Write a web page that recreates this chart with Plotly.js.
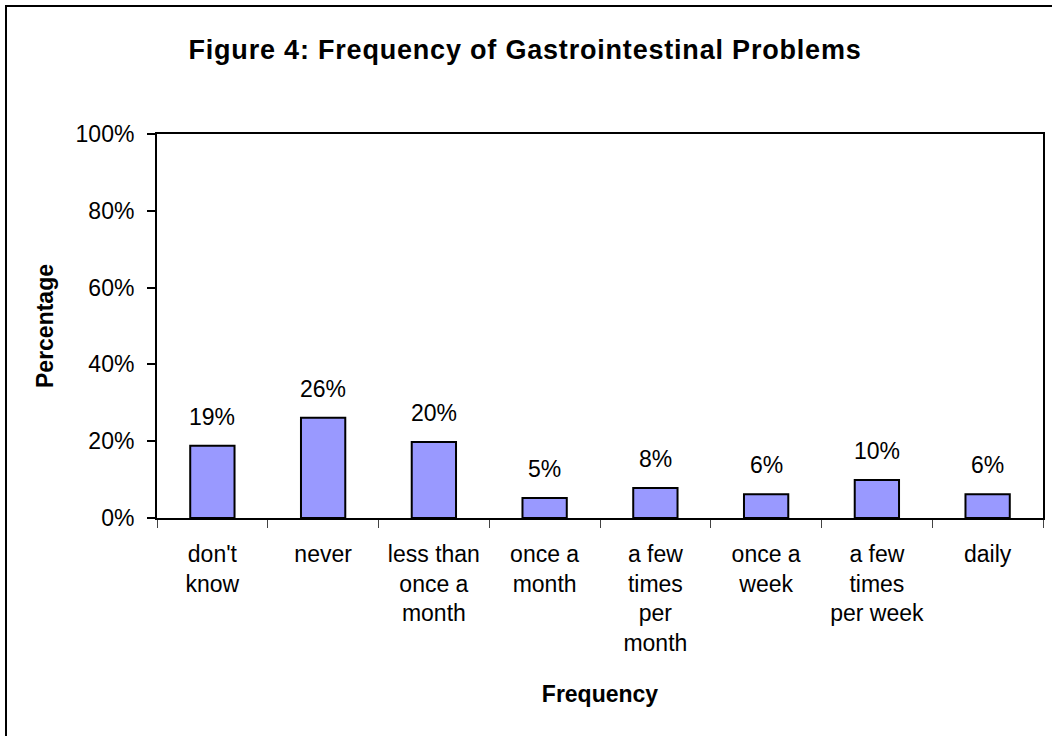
<!DOCTYPE html>
<html>
<head>
<meta charset="utf-8">
<script src="https://cdn.plot.ly/plotly-3.0.1.min.js"></script>
<style>
html,body{margin:0;padding:0;background:#fff;}
#chart{width:1052px;height:736px;}
.gtitle{letter-spacing:0.8px;}
</style>
</head>
<body>
<div id="chart"></div>
<script>
const categories = ["don't<br>know", "never", "less than<br>once a<br>month", "once a<br>month", "a few<br>times<br>per<br>month", "once a<br>week", "a few<br>times<br>per week", "daily"];
const values = [18.8, 26.1, 19.8, 5.2, 7.8, 6.2, 9.9, 6.2];
const valueLabels = ["19%", "26%", "20%", "5%", "8%", "6%", "10%", "6%"];
const yTickVals = [0, 20, 40, 60, 80, 100];
const yTickText = ["0%", "20%", "40%", "60%", "80%", "100%"];

const FONT = "Liberation Sans, Arial, sans-serif";

const trace = {
  type: 'bar',
  x: categories,
  y: values,
  marker: {color: '#9999FF', line: {color: '#000000', width: 2}},
  hoverinfo: 'none'
};

const annotations = categories.map((c, i) => ({
  x: c, y: values[i], xref: 'x', yref: 'y',
  text: valueLabels[i], showarrow: false,
  yanchor: 'bottom', yshift: 14,
  font: {family: FONT, size: 23, color: '#000'}
}));

const layout = {
  width: 1052, height: 736,
  paper_bgcolor: '#ffffff', plot_bgcolor: '#ffffff',
  margin: {l: 157, r: 9, t: 134, b: 218, pad: 0},
  showlegend: false,
  bargap: 0.6,
  title: {
    text: '<b>Figure 4: Frequency of Gastrointestinal Problems</b>',
    font: {family: FONT, size: 27, color: '#000'},
    x: 525/1052, xref: 'container', xanchor: 'center',
    y: 1 - 50/736, yref: 'container', yanchor: 'middle'
  },
  xaxis: {
    type: 'category',
    tickson: 'boundaries',
    ticks: 'outside', ticklen: 8, tickwidth: 1, tickcolor: '#444',
    showline: true, linecolor: '#000', linewidth: 2, mirror: true,
    showgrid: false, zeroline: false,
    tickfont: {family: FONT, size: 23, color: '#000'},
    tickangle: 0,
    ticklabelstandoff: 14,
    title: {text: '<b>Frequency</b>', font: {family: FONT, size: 23, color: '#000'}, standoff: 31},
    automargin: false
  },
  yaxis: {
    range: [0, 100],
    tickvals: yTickVals, ticktext: yTickText,
    ticks: 'outside', ticklen: 8, tickwidth: 2, tickcolor: '#000',
    showline: true, linecolor: '#000', linewidth: 2, mirror: true,
    showgrid: false, zeroline: false,
    tickfont: {family: FONT, size: 23, color: '#000'},
    ticklabelstandoff: 8,
    title: {text: '<b>Percentage</b>', font: {family: FONT, size: 23, color: '#000'}, standoff: 16},
    automargin: false
  },
  annotations: annotations,
  shapes: [{
    type: 'rect', xref: 'paper', yref: 'paper',
    x0: (6 - 157) / 886, x1: (1060 - 157) / 886,
    y0: (518 - 745) / 384, y1: (518 - 6) / 384,
    line: {color: '#000', width: 2}, fillcolor: 'rgba(0,0,0,0)', layer: 'below'
  }]
};

Plotly.newPlot('chart', [trace], layout, {displayModeBar: false, staticPlot: true});
</script>
</body>
</html>
